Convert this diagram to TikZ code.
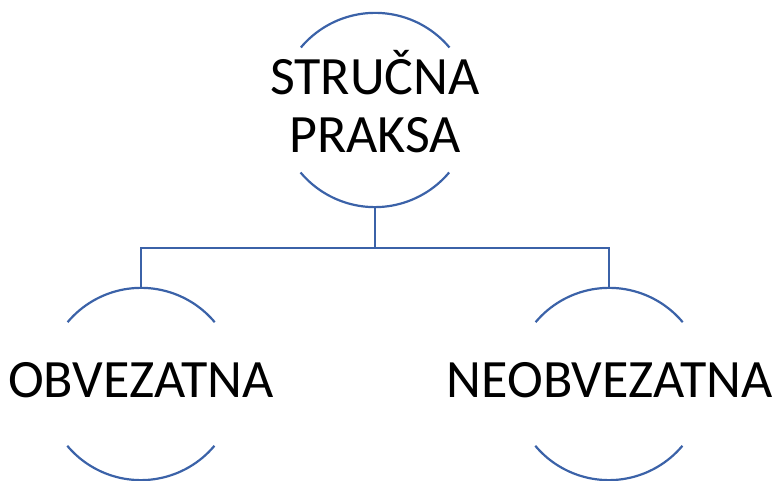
\documentclass[tikz,border=0pt]{standalone}
\usepackage{fontspec}
\setmainfont{Carlito}
\definecolor{lineblue}{HTML}{3B62A8}
\begin{document}
\begin{tikzpicture}[x=1pt,y=1pt,
  ring/.style={circle,minimum size=#1,inner sep=0pt,draw=none},
  arcline/.style={draw=lineblue,line width=2.2pt},
  conn/.style={draw=lineblue,line width=2.2pt},
  label/.style={font=\fontsize{54}{62}\selectfont,anchor=base,inner sep=0pt,text=black}]
\useasboundingbox (0,0) rectangle (772,481);
\node[ring=194pt] (top) at (375,371) {};
\node[ring=192pt] (left) at (141,97) {};
\node[ring=192pt] (right) at (609,97) {};
\coordinate (bar) at (375,233);
% arcs
\draw[arcline] (top.40) arc[start angle=40,end angle=140,radius=97pt];
\draw[arcline] (top.220) arc[start angle=220,end angle=320,radius=97pt];
\draw[arcline] (left.40) arc[start angle=40,end angle=140,radius=96pt];
\draw[arcline] (left.220) arc[start angle=220,end angle=320,radius=96pt];
\draw[arcline] (right.40) arc[start angle=40,end angle=140,radius=96pt];
\draw[arcline] (right.220) arc[start angle=220,end angle=320,radius=96pt];
% connectors
\draw[conn] (top.south) -- (bar) -| (left.north);
\draw[conn] (bar) -| (right.north);
% texts
\node[label] (t1) at (375,386) {STRUČNA};
\node[label] (t2) at (375,328) {PRAKSA};
\node[label] (t3) at (141,83) {OBVEZATNA};
\node[label] (t4) at (610,83) {NEOBVEZATNA};
\end{tikzpicture}
\end{document}
